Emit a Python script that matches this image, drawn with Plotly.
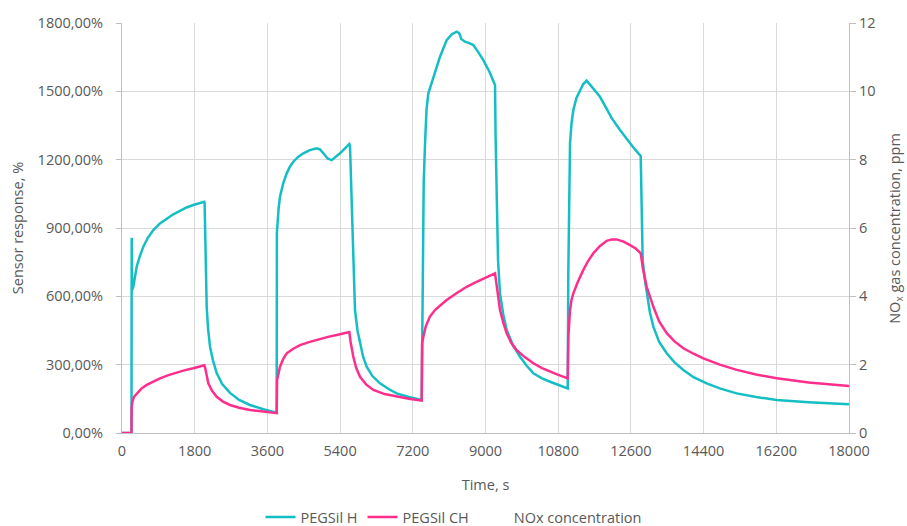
import plotly.graph_objects as go

# PEGSil H (cyan) — time (s), response (%)
h_time = [0, 235, 240, 250, 280, 320, 364, 440, 528, 640, 775, 940, 1106, 1270, 1436, 1600, 1765, 1900, 2038,
          2045, 2070, 2097, 2130, 2179, 2250, 2345, 2480, 2674, 2900, 3169, 3500, 3830,
          3835, 3850, 3880, 3912, 3990, 4078, 4160, 4243, 4360, 4490, 4650, 4821, 4900, 4986, 5090, 5192, 5300, 5398, 5520, 5628,
          5645, 5700, 5727, 5769, 5830, 5893, 5970, 6058, 6200, 6388, 6600, 6800, 7100, 7420,
          7440, 7470, 7503, 7540, 7585, 7709, 7874, 8039, 8160, 8287, 8350, 8400, 8493, 8600, 8699, 8820, 8946, 9100, 9236,
          9250, 9277, 9310, 9359, 9440, 9525, 9680, 9855, 10020, 10185, 10400, 10598, 10800, 11036,
          11050, 11070, 11093, 11130, 11175, 11250, 11340, 11420, 11505, 11650, 11835, 11980, 12125, 12330, 12578, 12700, 12843,
          12860, 12892, 12940, 12991, 13070, 13156, 13300, 13487, 13680, 13899, 14150, 14477, 14800, 15220, 15700, 16210, 17000, 18000]
h_resp = [0, 0, 857, 628, 642, 690, 730, 775, 818, 857, 891, 920, 942, 960, 975, 990, 1001, 1008, 1015,
          1010, 750, 554, 460, 379, 320, 263, 215, 176, 145, 123, 104, 89,
          880, 935, 990, 1037, 1095, 1140, 1170, 1191, 1212, 1228, 1242, 1250, 1245, 1228, 1205, 1198, 1212, 1228, 1250, 1269,
          1260, 950, 833, 540, 450, 394, 335, 291, 250, 218, 193, 174, 158, 145,
          700, 1100, 1272, 1420, 1491, 1564, 1652, 1725, 1750, 1762, 1755, 1730, 1718, 1712, 1703, 1672, 1637, 1585, 1528,
          1300, 979, 760, 613, 520, 452, 385, 335, 295, 262, 240, 225, 210, 196,
          700, 1050, 1272, 1360, 1418, 1470, 1506, 1532, 1547, 1515, 1476, 1430, 1382, 1330, 1272, 1245, 1216,
          1100, 759, 680, 613, 530, 467, 400, 350, 310, 277, 245, 218, 196, 174, 158, 145, 135, 126]

# PEGSil CH (pink) — time (s), response (%)
ch_time = [0, 235, 240, 260, 300, 364, 480, 612, 780, 941, 1150, 1354, 1560, 1765, 2038,
           2060, 2100, 2137, 2230, 2345, 2500, 2674, 2900, 3169, 3500, 3830,
           3840, 3870, 3912, 3990, 4078, 4240, 4407, 4650, 4903, 5100, 5316, 5470, 5628,
           5660, 5700, 5727, 5800, 5893, 6050, 6223, 6500, 6800, 7100, 7420,
           7430, 7470, 7520, 7620, 7750, 7900, 8039, 8290, 8534, 8740, 8946, 9100, 9236,
           9280, 9320, 9359, 9440, 9525, 9640, 9772, 9980, 10185, 10400, 10598, 10800, 11036,
           11050, 11093, 11130, 11175, 11290, 11423, 11540, 11670, 11830, 12001, 12120, 12248, 12420, 12578, 12720, 12843,
           12900, 12991, 13070, 13156, 13300, 13487, 13680, 13899, 14150, 14394, 14800, 15220, 15700, 16210, 17000, 18000]
ch_resp = [0, 0, 115, 140, 160, 174, 195, 211, 226, 240, 254, 266, 276, 284, 297,
           285, 245, 218, 185, 159, 138, 123, 111, 101, 94, 87,
           233, 265, 291, 325, 350, 370, 386, 400, 413, 422, 430, 437, 443,
           400, 355, 335, 285, 247, 212, 189, 171, 159, 150, 142,
           394, 430, 467, 510, 540, 563, 584, 615, 642, 660, 679, 690, 701,
           640, 585, 540, 485, 438, 395, 364, 332, 306, 285, 269, 255, 240,
           420, 540, 585, 613, 665, 716, 755, 789, 820, 844, 850, 850, 840, 825, 810, 789,
           720, 642, 595, 554, 490, 438, 402, 372, 348, 328, 300, 277, 257, 240, 222, 206]

# NOx concentration (listed in the legend but not drawn in the reference)
nox_time = [0, 18000]
nox_ppm = [None, None]

x_ticks = [0, 1800, 3600, 5400, 7200, 9000, 10800, 12600, 14400, 16200, 18000]
x_labels = [str(v) for v in x_ticks]

grey = "#595959"
grid = "#d9d9d9"
axis_line = "#bfbfbf"
font = "Open Sans"
fs = 14.5

fig = go.Figure()
fig.add_trace(go.Scatter(x=h_time, y=h_resp, mode="lines", name="PEGSil H",
                         line=dict(color="#14BEC4", width=2.5)))
fig.add_trace(go.Scatter(x=ch_time, y=ch_resp, mode="lines", name="PEGSil CH",
                         line=dict(color="#FF2E8C", width=2.5)))
fig.add_trace(go.Scatter(x=nox_time, y=nox_ppm, mode="lines", name="NOx concentration",
                         yaxis="y2", line=dict(color="rgba(0,0,0,0)", width=2)))

fig.update_layout(
    width=907, height=526,
    margin=dict(l=122, r=58, t=23, b=93, autoexpand=False),
    paper_bgcolor="white", plot_bgcolor="white",
    separators=",.",
    font=dict(family=font, size=fs, color=grey),
    showlegend=True,
    legend=dict(orientation="h", x=0.5, xanchor="center", xref="container",
                y=-0.205, yanchor="middle", yref="paper",
                font=dict(size=fs, color=grey), itemwidth=30),
    xaxis=dict(range=[0, 18000], tickvals=x_ticks, ticktext=x_labels, showgrid=True, gridcolor=grid,
               gridwidth=1, zeroline=False, showline=True, linecolor=axis_line,
               ticks="outside", ticklen=5, tickcolor="rgba(0,0,0,0)",
               tickfont=dict(size=fs, color=grey),
               title=dict(text="Time, s", font=dict(size=fs, color=grey), standoff=20)),
    yaxis=dict(range=[0, 1800], dtick=300, tickformat=".2f", ticksuffix="%",
               showgrid=True, gridcolor=grid, gridwidth=1, zeroline=False,
               showline=True, linecolor=axis_line, ticks="outside", ticklen=5,
               tickcolor=axis_line, tickfont=dict(size=fs, color=grey),
               ticklabelstandoff=10,
               title=dict(text="Sensor response, %", font=dict(size=fs, color=grey), standoff=10)),
    yaxis2=dict(range=[0, 12], dtick=2, overlaying="y", side="right",
                showgrid=False, zeroline=False, showline=True, linecolor=axis_line,
                ticks="outside", ticklen=6, tickcolor=axis_line,
                tickfont=dict(size=fs, color=grey)),
    annotations=[dict(text="NO<sub>x</sub> gas concentration, ppm", textangle=-90,
                      xref="paper", yref="paper", x=1.063, y=0.5,
                      xanchor="center", yanchor="middle", showarrow=False,
                      font=dict(size=fs, color=grey))],
)

fig.write_html("out.html")
